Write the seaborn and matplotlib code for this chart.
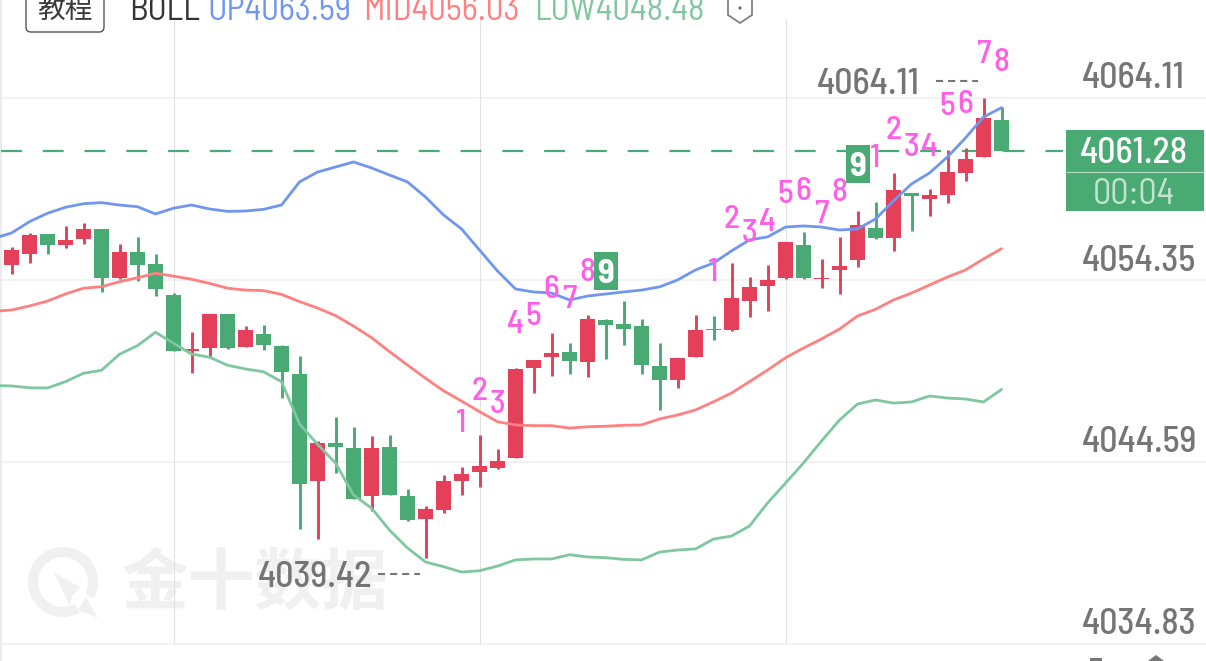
import numpy as np
import pandas as pd
import seaborn as sns
import matplotlib
matplotlib.use("Agg")
import matplotlib.pyplot as plt
from matplotlib.patches import Rectangle, FancyBboxPatch, Wedge, Polygon, Circle
from matplotlib.transforms import Affine2D
from matplotlib import font_manager

# Candles, oldest first
opens = [4055.15, 4055.74, 4056.80, 4056.23, 4056.53, 4057.07, 4054.44, 4055.84, 4055.19, 4053.53,
         4050.54, 4050.72, 4052.54, 4050.76, 4051.45, 4050.81, 4049.31, 4043.59, 4045.61, 4045.36,
         4042.77, 4045.40, 4042.78, 4041.53, 4042.02, 4043.56, 4044.05, 4044.27, 4044.82, 4049.62,
         4050.22, 4050.47, 4049.97, 4052.22, 4052.01, 4051.88, 4049.72, 4048.99, 4050.24, 4051.72,
         4051.65, 4053.24, 4054.03, 4054.46, 4056.24, 4054.40, 4054.90, 4055.42, 4057.12, 4056.62,
         4059.03, 4058.71, 4058.92, 4060.07, 4060.96, 4062.93]
closes = [4055.96, 4056.76, 4056.21, 4056.48, 4057.07, 4054.47, 4055.84, 4055.17, 4053.85, 4050.56,
          4050.67, 4052.53, 4050.70, 4051.65, 4050.85, 4049.42, 4043.43, 4045.63, 4045.40, 4042.59,
          4045.33, 4042.82, 4041.50, 4042.05, 4043.57, 4043.96, 4044.36, 4044.63, 4049.56, 4050.04,
          4050.44, 4049.99, 4052.28, 4051.94, 4051.74, 4049.78, 4048.99, 4050.18, 4051.67, 4051.69,
          4053.39, 4053.99, 4054.35, 4056.39, 4054.46, 4054.44, 4055.10, 4057.28, 4056.60, 4059.16,
          4058.84, 4058.89, 4060.16, 4060.82, 4063.02, 4061.28]
highs = [4056.14, 4056.87, 4056.82, 4057.25, 4057.39, 4057.09, 4056.26, 4056.67, 4055.74, 4053.67,
         4051.55, 4052.53, 4052.54, 4051.88, 4051.94, 4050.87, 4050.27, 4045.73, 4047.00, 4046.45,
         4046.00, 4046.04, 4043.16, 4042.25, 4043.89, 4044.31, 4046.05, 4045.29, 4049.62, 4050.04,
         4051.52, 4050.97, 4052.46, 4052.26, 4053.24, 4052.24, 4050.96, 4050.18, 4052.46, 4052.44,
         4055.28, 4054.50, 4055.14, 4056.39, 4056.92, 4055.49, 4056.67, 4058.07, 4058.55, 4060.10,
         4059.03, 4059.21, 4061.32, 4061.41, 4064.11, 4063.61]
lows = [4054.67, 4055.28, 4055.74, 4056.07, 4056.28, 4053.72, 4054.40, 4054.30, 4053.49, 4050.54,
        4049.38, 4050.24, 4050.67, 4050.76, 4050.61, 4048.04, 4041.00, 4040.48, 4044.02, 4042.59,
        4041.98, 4042.82, 4041.43, 4039.42, 4041.87, 4042.84, 4043.25, 4044.22, 4044.82, 4048.31,
        4049.19, 4049.31, 4049.15, 4050.13, 4050.88, 4049.31, 4047.38, 4048.56, 4050.24, 4051.13,
        4051.62, 4052.35, 4052.69, 4054.42, 4054.39, 4053.91, 4053.60, 4055.03, 4056.53, 4055.92,
        4056.99, 4057.78, 4058.50, 4059.68, 4060.96, 4061.28]

# Bollinger bands, starting one bar before the first visible candle
boll_up = [4056.58, 4056.87, 4057.48, 4057.93, 4058.25, 4058.44, 4058.50, 4058.37, 4058.28, 4057.89, 4058.20,
           4058.37, 4058.16, 4058.03, 4058.05, 4058.14, 4058.37, 4059.61, 4060.14, 4060.41, 4060.68,
           4060.36, 4059.98, 4059.61, 4058.80, 4057.84, 4057.09, 4055.96, 4054.83, 4053.87, 4053.71,
           4053.65, 4053.28, 4053.49, 4053.60, 4053.71, 4053.81, 4053.98, 4054.35, 4054.89, 4055.26,
           4055.91, 4056.50, 4056.66, 4057.19, 4057.25, 4057.19, 4057.03, 4057.09, 4057.62, 4058.59,
           4059.50, 4060.09, 4060.95, 4061.97, 4063.09, 4063.59]
boll_mid = [4052.67, 4052.74, 4052.96, 4053.22, 4053.60, 4053.91, 4053.99, 4054.26, 4054.47, 4054.71, 4054.56,
            4054.39, 4054.17, 4053.91, 4053.81, 4053.78, 4053.58, 4053.19, 4052.85, 4052.44, 4051.88,
            4051.26, 4050.51, 4049.79, 4049.08, 4048.41, 4047.86, 4047.29, 4046.75, 4046.58, 4046.54,
            4046.54, 4046.41, 4046.48, 4046.51, 4046.56, 4046.58, 4046.90, 4047.11, 4047.38, 4047.82,
            4048.29, 4048.90, 4049.52, 4050.18, 4050.70, 4051.19, 4051.72, 4052.42, 4052.78, 4053.28,
            4053.65, 4054.08, 4054.51, 4054.89, 4055.48, 4056.03]
boll_low = [4048.69, 4048.67, 4048.57, 4048.56, 4048.90, 4049.35, 4049.51, 4050.37, 4050.83, 4051.55, 4050.96,
            4050.38, 4050.21, 4049.78, 4049.58, 4049.43, 4048.90, 4046.63, 4045.54, 4044.54, 4042.82,
            4042.12, 4040.94, 4039.98, 4039.23, 4038.98, 4038.69, 4038.76, 4039.01, 4039.34, 4039.39,
            4039.39, 4039.62, 4039.50, 4039.46, 4039.37, 4039.34, 4039.76, 4039.87, 4039.93, 4040.46,
            4040.62, 4041.16, 4042.39, 4043.46, 4044.54, 4045.72, 4046.84, 4047.70, 4047.92, 4047.75,
            4047.81, 4048.13, 4048.02, 4047.97, 4047.81, 4048.48]

# Sequence counters printed around the candles: candle, count, price
seq_index = [25, 26, 27, 28, 29, 30, 31, 32, 39, 40, 41, 42, 43, 44, 45, 46, 48, 49, 50, 51, 52, 53, 54, 55]
seq_count = ["1", "2", "3", "4", "5", "6", "7", "8", "1", "2", "3", "4", "5", "6", "7", "8",
             "1", "2", "3", "4", "5", "6", "7", "8"]
seq_price = [4046.81, 4048.51, 4047.81, 4052.15, 4052.53, 4053.98, 4053.49, 4054.94,
             4054.94, 4057.73, 4057.03, 4057.62, 4059.12, 4059.28, 4058.00, 4059.18,
             4061.00, 4062.55, 4061.59, 4061.64, 4063.84, 4063.90, 4066.63, 4066.15]
nine_index = [33, 47]
nine_price = [4054.83, 4060.57]

axis_prices = [4064.11, 4054.35, 4044.59, 4034.83]
axis_labels = ["4064.11", "4054.35", "4044.59", "4034.83"]
last_price = 4061.28
countdown = "00:04"
highest = 4064.11
lowest = 4039.42
session_breaks = [9, 26, 43]

RED = "#e4405a"
GREEN = "#4aaa74"
UP_BLUE = "#7096f0"
MID_RED = "#ff8080"
LOW_GREEN = "#7fc79f"
PINK = "#ff5fe6"
GREY = "#757575"

sns.set_theme(style="white")
installed = {f.name for f in font_manager.fontManager.ttflist}
DIN = next((n for n in ("Barlow Semi Condensed", "Roboto Condensed", "Roboto") if n in installed), "DejaVu Sans")
plt.rcParams["font.family"] = [DIN, "Noto Sans CJK SC", "DejaVu Sans"]

W, H = 1206, 661
XLIM = (-0.639, 66.361)
YLIM = (4033.92, 4069.365)
fig = plt.figure(figsize=(W / 100, H / 100), dpi=100, facecolor="white")
ax = fig.add_axes([0, 0, 1, 1])
ax.set_xlim(*XLIM)
ax.set_ylim(*YLIM)

# Screen-space transform for the furniture around the plot (origin top-left, pixels)
px = Affine2D().scale(1 / W, -1 / H).translate(0, 1) + fig.transFigure

candles = pd.DataFrame({"i": np.arange(len(opens)), "open": opens, "close": closes,
                        "high": highs, "low": lows})
candles["color"] = np.where(candles["close"] >= candles["open"], RED, GREEN)
candles.loc[39, "color"] = GREEN
bands = pd.DataFrame({"i": np.arange(-1, len(opens)), "up": boll_up, "mid": boll_mid, "dn": boll_low})

# Watermark
ax.add_patch(Wedge((63, 582), 35, 62, 28, width=10, transform=px, color="#f0f0f0", lw=0, zorder=0))
ax.add_patch(Polygon([(54, 573), (80, 587), (72, 596), (70, 606)], transform=px, color="#f0f0f0", lw=0, zorder=0))
ax.add_patch(Polygon([(86, 597), (98, 618), (78, 610)], transform=px, color="#f0f0f0", lw=0, zorder=0))
ax.text(255, 584, "金十数据", transform=px, ha="center", va="center", fontsize=48,
        family="Noto Sans CJK SC", weight="black", color="#f0f0f0", zorder=0)

# Gridlines and session separators
ax.hlines(axis_prices, *XLIM, color="#f1f1f1", lw=1.3, zorder=1)
ax.vlines(session_breaks, 4034.83, 4068.35, color="#e2e2e2", lw=0.8, zorder=1)
ax.add_patch(Rectangle((0, 0), 2, H, transform=px, color="#ececec", lw=0, zorder=1))

# Candles
ax.vlines(candles["i"], candles["low"], candles["high"], colors=candles["color"], lw=2.1, zorder=3)
body_low = candles[["open", "close"]].min(axis=1)
body_high = candles[["open", "close"]].max(axis=1)
ax.bar(candles["i"], body_high - body_low, bottom=body_low, width=0.83, color=candles["color"], lw=0, zorder=3)

# Bollinger bands
for col, colour in (("mid", MID_RED), ("dn", LOW_GREEN), ("up", UP_BLUE)):
    sns.lineplot(data=bands, x="i", y=col, ax=ax, color=colour, lw=2.0, zorder=4,
                 errorbar=None, legend=False)
ax.set_xlim(*XLIM)
ax.set_ylim(*YLIM)
ax.set_axis_off()

# Last-price line and tag
ax.plot([-0.56, 58.4], [last_price, last_price], color=GREEN, lw=1.6,
        linestyle=(0, (9.4, 9.4)), dash_capstyle="butt", zorder=2)
ax.add_patch(Rectangle((1066, 130), 138, 81, transform=px, color=GREEN, lw=0, zorder=6))
ax.plot([1066, 1204], [172, 172], transform=px, color="#b4dcc6", lw=0.8, zorder=7)
ax.text(1134, 150, f"{last_price:.2f}", transform=px, ha="center", va="center_baseline",
        fontsize=26, color="white", weight=500, zorder=8)
ax.text(1134, 191, countdown, transform=px, ha="center", va="center_baseline",
        fontsize=26, color="#c3e3d1", zorder=8)

# Sequence counters
for i, label, price in zip(seq_index, seq_count, seq_price):
    ax.text(i, price, label, ha="center", va="center_baseline", fontsize=24, color=PINK, weight=500, zorder=6)
for i, price in zip(nine_index, nine_price):
    y = ax.transData.transform((0, price))[1]
    cx = ax.transData.transform((i, 0))[0]
    top = H - y
    ax.add_patch(Rectangle((cx - 12, top - 19), 24, 38, transform=px, color=GREEN, lw=0, zorder=7))
    ax.text(i, price, "9", ha="center", va="center_baseline", fontsize=25, color="white", weight="bold", zorder=8)

# Price axis labels
label_rows = [75, 258, 439, 621]
for row, label in zip(label_rows, axis_labels):
    ax.text(1082, row, label, transform=px, ha="left", va="center_baseline", fontsize=26,
            color=GREY, weight=500, zorder=6)

# Session high and low markers
ax.text(817, 81, f"{highest:.2f}", transform=px, ha="left", va="center_baseline", fontsize=26,
        color=GREY, weight=500, zorder=6)
ax.plot([936, 978], [81, 81], transform=px, color=GREY, lw=1.5,
        linestyle=(0, (3.4, 2.4)), dash_capstyle="butt", zorder=6)
ax.text(258, 574, f"{lowest:.2f}", transform=px, ha="left", va="center_baseline", fontsize=26,
        color=GREY, weight=500, zorder=6)
ax.plot([378, 420], [574, 574], transform=px, color=GREY, lw=1.5,
        linestyle=(0, (3.4, 2.4)), dash_capstyle="butt", zorder=6)

# Header strip
ax.add_patch(FancyBboxPatch((26, -20), 78, 52, boxstyle="round,pad=0,rounding_size=5", transform=px,
                            fc="white", ec="#555555", lw=1.0, zorder=6, clip_on=False))
ax.text(65, 10, "教程", transform=px, ha="center", va="center", fontsize=20,
        family="Noto Sans CJK SC", color="#3a3a3a", zorder=7)
header = [(129, "BOLL", "#333333"),
          (207, f"UP{boll_up[-1]:.2f}", UP_BLUE),
          (363, f"MID{boll_mid[-1]:.2f}", MID_RED),
          (534, f"LOW{boll_low[-1]:.2f}", LOW_GREEN)]
for x, text, colour in header:
    ax.text(x, 8, text, transform=px, ha="left", va="center_baseline", fontsize=25, color=colour, zorder=7)
ax.add_patch(Polygon([(728, -4), (752, -4), (752, 15), (740, 23), (728, 15)], transform=px,
                     fc="none", ec="#808080", lw=1.3, zorder=7))
ax.add_patch(Circle((740, 8), 1.6, transform=px, color="#666666", lw=0, zorder=7))

# Tops of the toolbar glyphs along the lower edge
ax.add_patch(Rectangle((1090, 658), 12, 3, transform=px, color="#777777", lw=0, zorder=6))
ax.add_patch(Polygon([(1148, 661), (1156, 655), (1164, 661)], transform=px, color="#777777", lw=0, zorder=6))

fig.savefig("out.png", dpi=100, facecolor="white")
